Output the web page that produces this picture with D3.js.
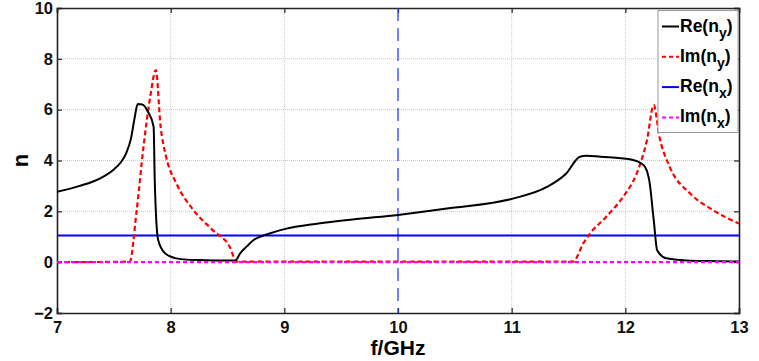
<!DOCTYPE html>
<meta charset="utf-8">
<head>
    <script src="https://d3js.org/d3.v7.min.js"></script>
    <style>
        body { margin: 0; background: #fff; }
        text { font-family: 'Liberation Sans', Arial, sans-serif; font-weight: bold; }
    </style>
</head>
<body>
<div id="chart"></div>
<script>
// data
var xTicks = [7, 8, 9, 10, 11, 12, 13]
var yTicks = [-2, 0, 2, 4, 6, 8, 10]

var fReNy = [7.0, 7.2, 7.38, 7.5, 7.56, 7.61, 7.65, 7.68, 7.71, 7.75, 7.80, 7.85, 7.86, 7.89, 7.95, 8.05, 8.14, 8.3, 8.45, 8.57, 8.61, 8.67, 8.73, 8.8, 8.87, 9.0, 9.3, 9.6, 10.0, 10.43, 11.01, 11.31, 11.48, 11.60, 11.66, 11.78, 12.04, 12.16, 12.21, 12.25, 12.28, 12.36, 12.57, 12.8, 13.0]
var reNy  = [2.77, 3.0, 3.3, 3.65, 3.92, 4.3, 4.85, 5.6, 6.22, 6.2, 5.92, 5.33, 3.2, 0.87, 0.35, 0.15, 0.1, 0.08, 0.07, 0.07, 0.34, 0.62, 0.87, 1.02, 1.13, 1.3, 1.52, 1.68, 1.86, 2.11, 2.5, 2.96, 3.49, 4.15, 4.19, 4.15, 4.05, 3.82, 3.23, 1.65, 0.47, 0.15, 0.06, 0.04, 0.03]

var fImNy = [7.0, 7.64, 7.7, 7.76, 7.82, 7.87, 7.91, 7.96, 8.05, 8.2, 8.37, 8.52, 8.58, 11.54, 11.63, 11.69, 11.83, 11.98, 12.10, 12.19, 12.25, 12.30, 12.39, 12.57, 12.77, 13.0]
var imNy  = [0.0, 0.02, 2.0, 4.5, 6.5, 7.56, 5.4, 4.15, 3.1, 2.05, 1.26, 0.6, 0.02, 0.02, 0.74, 1.13, 1.78, 2.57, 3.49, 4.8, 6.18, 4.93, 3.75, 2.7, 2.05, 1.52]

var fNx  = [7.0, 13.0]
var reNx = [1.05, 1.05]
var imNx = [0.0, 0.0]

var legendItems = [
    {name: "Re(n", sub: "y", color: "#000", dash: null},
    {name: "Im(n", sub: "y", color: "#ff0000", dash: "4,3"},
    {name: "Re(n", sub: "x", color: "#0000ff", dash: null},
    {name: "Im(n", sub: "x", color: "#ff00ff", dash: "4,3"}
]

var width = 759, height = 361
var margin = {left: 57, right: 20, top: 8, bottom: 48}

var svg = d3.select("#chart").append("svg")
    .attr("width", width).attr("height", height)

var x = d3.scaleLinear().domain([7, 13]).range([margin.left, width - margin.right])
var y = d3.scaleLinear().domain([-2, 10]).range([height - margin.bottom, margin.top])

// grid
svg.selectAll("gridY").data([2, 4, 6, 8]).enter().append("line")
    .attr("x1", x(7)).attr("x2", x(13))
    .attr("y1", function(d){ return y(d) }).attr("y2", function(d){ return y(d) })
    .attr("stroke", "#c8c8c8").attr("stroke-dasharray", "1,1")
svg.selectAll("gridX").data([8, 9, 11, 12]).enter().append("line")
    .attr("x1", function(d){ return x(d) }).attr("x2", function(d){ return x(d) })
    .attr("y1", y(-2)).attr("y2", y(10))
    .attr("stroke", "#c8c8c8").attr("stroke-dasharray", "1,1")

// axes with inward ticks
var fmt = d3.format("d")
svg.append("g").attr("transform", "translate(0," + y(-2) + ")")
    .call(d3.axisBottom(x).tickValues(xTicks).tickFormat(fmt).tickSize(-5).tickPadding(8))
svg.append("g").attr("transform", "translate(0," + y(10) + ")")
    .call(d3.axisTop(x).tickValues(xTicks).tickSize(-5).tickFormat(""))
svg.append("g").attr("transform", "translate(" + x(7) + ",0)")
    .call(d3.axisLeft(y).tickValues(yTicks).tickFormat(fmt).tickSize(-5).tickPadding(4))
svg.append("g").attr("transform", "translate(" + x(13) + ",0)")
    .call(d3.axisRight(y).tickValues(yTicks).tickSize(-5).tickFormat(""))
svg.selectAll(".domain").attr("stroke", "#222").attr("stroke-width", 1.6)
svg.selectAll(".tick line").attr("stroke", "#222").attr("stroke-width", 1.2)
svg.selectAll(".tick text").style("font-size", "16.5px").style("font-weight", "bold")
    .attr("fill", "#111").style("font-family", "'Liberation Sans', Arial, sans-serif")

// vertical dashed marker at 10 GHz
svg.append("line")
    .attr("x1", x(10)).attr("x2", x(10)).attr("y1", y(10)).attr("y2", y(-2))
    .attr("stroke", "#2a3cff").attr("stroke-width", 1.3).attr("stroke-dasharray", "13,7")

var line = d3.line().curve(d3.curveMonotoneX)
function pts(fs, vs) { return fs.map(function(f, i){ return [x(f), y(vs[i])] }) }

svg.append("path").attr("d", line(pts(fNx, reNx)))
    .attr("fill", "none").attr("stroke", "#0000ff").attr("stroke-width", 2)
svg.append("path").attr("d", line(pts(fImNy, imNy)))
    .attr("fill", "none").attr("stroke", "#ff0000").attr("stroke-width", 2.2).attr("stroke-dasharray", "5,3")
svg.append("path").attr("d", line(pts(fReNy, reNy)))
    .attr("fill", "none").attr("stroke", "#000").attr("stroke-width", 2)
svg.append("path").attr("d", line(pts(fNx, imNx)))
    .attr("fill", "none").attr("stroke", "#ff00ff").attr("stroke-width", 2.2).attr("stroke-dasharray", "4,3")

// axis labels
svg.append("text").attr("x", x(10)).attr("y", 355).attr("text-anchor", "middle")
    .style("font-size", "21px").text("f/GHz")
svg.append("text").attr("transform", "translate(28," + y(4) + ") rotate(-90)")
    .attr("text-anchor", "middle").style("font-size", "22px").text("n")

// legend
var lg = svg.append("g").attr("transform", "translate(658,10.5)")
lg.append("rect").attr("width", 80).attr("height", 122)
    .attr("fill", "#fff").attr("stroke", "#999").attr("stroke-width", 1)
legendItems.forEach(function(d, i) {
    var cy = 16 + i * 30.3
    lg.append("line").attr("x1", 4).attr("x2", 21).attr("y1", cy).attr("y2", cy)
        .attr("stroke", d.color).attr("stroke-width", 2).attr("stroke-dasharray", d.dash)
    var t = lg.append("text").attr("x", 22).attr("y", cy + 5).style("font-size", "17.5px")
    t.append("tspan").text(d.name)
    t.append("tspan").attr("dy", 6).style("font-size", "14px").text(d.sub)
    t.append("tspan").attr("dy", -6).text(")")
})
</script>
</body>
